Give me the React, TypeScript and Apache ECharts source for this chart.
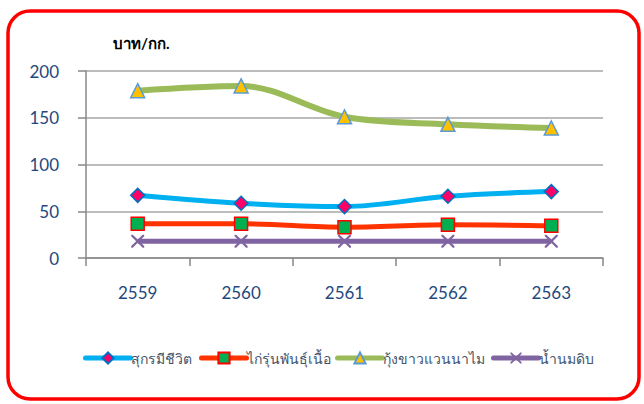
import React, { useEffect, useRef } from "react";
import * as echarts from "echarts";

const categories = ["2559", "2560", "2561", "2562", "2563"];
const porkValues = [67, 58.5, 55, 66, 71];
const chickenValues = [36.5, 36.5, 33, 35.5, 34.5];
const shrimpValues = [179, 184, 151, 143, 139];
const milkValues = [18, 18, 18, 18, 18];
const seriesNames = ["สุกรมีชีวิต", "ไก่รุ่นพันธุ์เนื้อ", "กุ้งขาวแวนนาไม", "น้ำนมดิบ"];
const unitLabel = "บาท/กก.";

const xSymbol =
  "path://M0,0 L1.2,0 L5,3.8 L8.8,0 L10,0 L10,1.2 L6.2,5 L10,8.8 L10,10 L8.8,10 L5,6.2 L1.2,10 L0,10 L0,8.8 L3.8,5 L0,1.2 Z";

const legendLefts = [83, 199, 335, 491];

export default function App() {
  const ref = useRef<HTMLDivElement>(null);
  useEffect(() => {
    document.body.style.margin = "0";
    const chart = echarts.init(ref.current!, null, { renderer: "svg" });
    const labelColor = "#1F497D";
    const font = "Lato, 'Noto Sans', sans-serif";
    const lineColors = ["#00B0F0", "#FF3300", "#9BBB59", "#8064A2"];
    chart.setOption({
      animation: false,
      backgroundColor: "#ffffff",
      textStyle: { fontFamily: font },
      grid: { left: 86, right: 41, top: 71, bottom: 146, containLabel: false },
      graphic: [
        {
          type: "rect",
          shape: { x: 8, y: 11, width: 631, height: 388, r: 22 },
          style: { fill: "none", stroke: "#FF0000", lineWidth: 3.5 },
          z: 100,
        },
        {
          type: "text",
          left: 113,
          top: 35,
          style: {
            text: unitLabel,
            fontSize: 15,
            fontWeight: "bold",
            fill: "#000000",
            fontFamily: font,
          },
        },
      ],
      legend: seriesNames.map((n, i) => ({
        left: legendLefts[i],
        top: 351,
        padding: 0,
        itemWidth: 45,
        itemHeight: 14,
        textStyle: { fontSize: 14, color: "#44546A", fontFamily: font, padding: [0, 0, 0, -5] },
        lineStyle: { width: 5, color: lineColors[i], cap: "round" },
        data: [n],
      })),
      xAxis: {
        type: "category",
        data: categories,
        boundaryGap: true,
        axisLine: { lineStyle: { color: "#878787", width: 1.5 } },
        axisTick: { show: true, length: 8, lineStyle: { color: "#878787", width: 1.5 } },
        axisLabel: { fontSize: 17, color: labelColor, margin: 26 },
      },
      yAxis: {
        type: "value",
        min: 0,
        max: 200,
        interval: 50,
        axisLine: { show: true, lineStyle: { color: "#878787", width: 1.5 } },
        axisTick: { show: true, length: 8, lineStyle: { color: "#878787", width: 1.5 } },
        axisLabel: { fontSize: 17, color: labelColor, margin: 27 },
        splitLine: { lineStyle: { color: "#A6A6A6", width: 1.5 } },
      },
      series: [
        {
          name: seriesNames[0],
          type: "line",
          data: porkValues,
          smooth: 0.35,
          symbol: "diamond",
          symbolSize: 14,
          lineStyle: { color: lineColors[0], width: 5 },
          itemStyle: { color: "#FF0066", borderColor: "#0070C0", borderWidth: 1.5 },
          z: 4,
        },
        {
          name: seriesNames[1],
          type: "line",
          data: chickenValues,
          smooth: 0.35,
          symbol: "rect",
          symbolSize: 13,
          lineStyle: { color: lineColors[1], width: 5 },
          itemStyle: { color: "#00B050", borderColor: "#FF0000", borderWidth: 1.5 },
          z: 3,
        },
        {
          name: seriesNames[2],
          type: "line",
          data: shrimpValues,
          smooth: 0.35,
          symbol: "triangle",
          symbolSize: 14,
          lineStyle: { color: lineColors[2], width: 6 },
          itemStyle: { color: "#FFC000", borderColor: "#5B9BD5", borderWidth: 1.5 },
          z: 5,
        },
        {
          name: seriesNames[3],
          type: "line",
          data: milkValues,
          smooth: 0.35,
          symbol: xSymbol,
          symbolSize: 13,
          lineStyle: { color: lineColors[3], width: 5 },
          itemStyle: { color: "#8064A2" },
          z: 2,
        },
      ],
    });
    return () => chart.dispose();
  }, []);
  return <div ref={ref} style={{ width: 644, height: 404 }} />;
}
